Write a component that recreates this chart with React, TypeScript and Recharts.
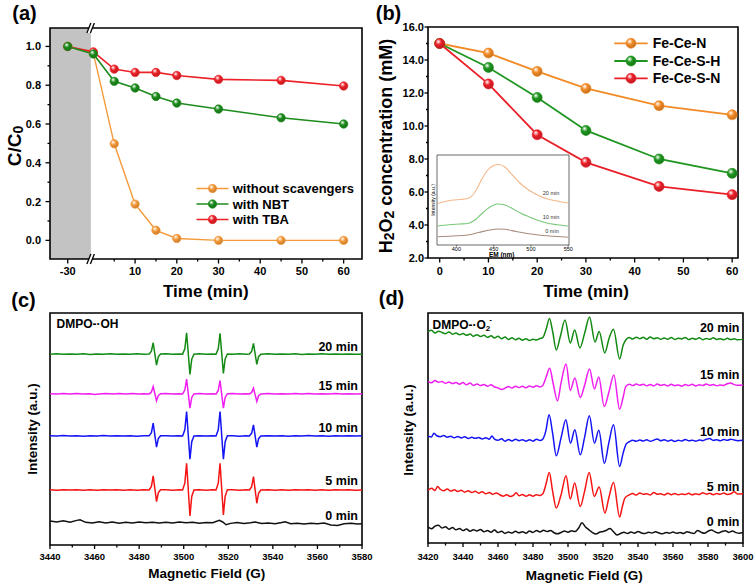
import React from 'react';
import { LineChart, Line, XAxis, YAxis, ReferenceArea, ReferenceDot } from 'recharts';

const FONT = "Arial, 'Liberation Sans', Helvetica, sans-serif";

// ---------------- Panel (a) data ----------------
const timeA = [-30, 0, 5, 10, 15, 20, 30, 45, 60];
const withoutScavengers = [1.0, 0.965, 0.498, 0.187, 0.052, 0.01, 0.0, 0.0, 0.0];
const withNBT = [1.0, 0.961, 0.82, 0.786, 0.742, 0.708, 0.677, 0.632, 0.6];
const withTBA = [1.0, 0.972, 0.883, 0.866, 0.866, 0.85, 0.83, 0.825, 0.796];
const namesA = ['without scavengers', 'with NBT', 'with TBA'];
const colorsA = ['#F59A3A', '#1C8C1C', '#EC2228'];
const xTicksA = [-30, 5, 10, 15, 20, 25, 30, 35, 40, 45, 50, 55, 60];
const xMajorsA = [-30, 10, 20, 30, 40, 50, 60];
const yTicksA = [0, 0.1, 0.2, 0.3, 0.4, 0.5, 0.6, 0.7, 0.8, 0.9, 1.0];
const yMajorsA = [0, 0.2, 0.4, 0.6, 0.8, 1.0];

// ---------------- Panel (b) data ----------------
const timeB = [0, 10, 20, 30, 45, 60];
const feCeN = [15.0, 14.42, 13.31, 12.28, 11.23, 10.68];
const feCeSH = [15.0, 13.55, 11.73, 9.73, 8.0, 7.13];
const feCeSN = [15.0, 12.55, 9.47, 7.8, 6.34, 5.84];
const namesB = ['Fe-Ce-N', 'Fe-Ce-S-H', 'Fe-Ce-S-N'];
const colorsB = ['#F28A26', '#1E951E', '#EA2029'];
const xTicksB = [0, 5, 10, 15, 20, 25, 30, 35, 40, 45, 50, 55, 60];
const xMajorsB = [0, 10, 20, 30, 40, 50, 60];
const yTicksB = [2, 3, 4, 5, 6, 7, 8, 9, 10, 11, 12, 13, 14, 15, 16];
const yMajorsB = [2, 4, 6, 8, 10, 12, 14, 16];

// inset of (b): emission spectra
const inset20: [number, number][] = [[375, 41.5], [385, 43.5], [395, 45], [405, 45.5], [415, 46.5], [422, 50], [428, 57], [435, 67], [442, 75], [450, 79.5], [457, 80.5], [465, 78], [475, 70], [485, 62], [497, 55], [510, 49.5], [520, 46.5], [535, 44], [550, 42]];
const inset10: [number, number][] = [[375, 19], [390, 20.3], [405, 21], [415, 21.5], [425, 25], [435, 32], [445, 38], [455, 41], [465, 40], [475, 36.5], [487, 31.5], [497, 28.3], [510, 24.5], [520, 22.3], [535, 20.3], [550, 19]];
const inset0: [number, number][] = [[375, 8.3], [395, 9], [415, 10], [430, 12.5], [445, 15], [455, 16], [465, 15.7], [480, 13.5], [495, 11.5], [510, 10], [530, 8.8], [550, 7.8]];
const insetColors = ['#F4B78A', '#78C878', '#A98C7C'];
const insetTicks = [400, 450, 500, 550];

// ---------------- Panel (c) data: DMPO-OH EPR ----------------
const oh20: [number, number][] = [[3440, 190.6], [3443, 190.9], [3446, 190.4], [3449, 190.8], [3452, 190.5], [3455, 190.9], [3458, 190.3], [3461, 190.7], [3464, 190.5], [3467, 190.9], [3470, 190.4], [3473, 190.8], [3476, 190.5], [3479, 190.9], [3482, 190.4], [3484.5, 190.7],
  [3485.5, 193.5], [3486.3, 202.0], [3487.8, 179.7], [3488.6, 188.0], [3489.6, 190.8],
  [3492, 190.9], [3495, 190.4], [3498, 190.8], [3499.5, 190.6],
  [3500.5, 196.0], [3501.3, 212.0], [3502.8, 170.4], [3503.6, 185.6], [3504.6, 190.5],
  [3507, 190.9], [3510, 190.4], [3513, 190.8], [3514.5, 190.6],
  [3515.5, 195.9], [3516.3, 211.4], [3517.8, 171.4], [3518.6, 185.9], [3519.6, 190.8],
  [3522, 190.4], [3525, 190.9], [3528, 190.5], [3529.5, 190.7],
  [3530.5, 193.4], [3531.3, 201.4], [3532.8, 180.4], [3533.6, 188.1], [3534.6, 190.6],
  [3538, 190.9], [3541, 190.4], [3544, 190.8], [3547, 190.5], [3550, 190.9], [3553, 190.3], [3556, 190.8], [3559, 190.5], [3562, 190.9], [3565, 190.4], [3568, 190.7], [3571, 190.5], [3574, 190.8], [3577, 190.4], [3580, 190.6]];
const oh15: [number, number][] = [[3440, 151.1], [3443, 150.8], [3446, 151.3], [3449, 150.9], [3452, 151.2], [3455, 150.7], [3458, 151.0], [3460, 150.2], [3462, 150.9], [3465, 151.2], [3468, 150.8], [3471, 151.3], [3474, 150.9], [3477, 151.2], [3480, 150.7], [3482, 151.1], [3484.5, 150.9],
  [3485.5, 152.8], [3486.3, 158.3], [3487.8, 144.0], [3488.6, 149.2], [3489.6, 151.1],
  [3492, 151.2], [3495, 150.8], [3498, 151.1], [3499.5, 150.9],
  [3500.5, 154.7], [3501.3, 165.7], [3502.8, 136.7], [3503.6, 147.4], [3504.6, 150.9],
  [3507, 151.2], [3510, 150.7], [3513, 151.1], [3514.5, 150.9],
  [3515.5, 154.3], [3516.3, 164.3], [3517.8, 136.7], [3518.6, 147.4], [3519.6, 151.1],
  [3522, 151.2], [3525, 150.8], [3528, 151.1], [3529.5, 150.9],
  [3530.5, 152.4], [3531.3, 156.7], [3532.8, 143.3], [3533.6, 149.1], [3534.6, 150.9],
  [3538, 151.2], [3541, 150.8], [3544, 151.1], [3547, 150.7], [3550, 151.2], [3553, 150.9], [3556, 151.3], [3559, 150.8], [3562, 151.1], [3565, 150.7], [3568, 151.2], [3571, 150.9], [3574, 151.1], [3577, 150.8], [3580, 151.0]];
const oh10: [number, number][] = [[3440, 109.1], [3443, 108.8], [3446, 109.3], [3449, 108.9], [3452, 109.2], [3455, 108.7], [3458, 109.1], [3461, 108.8], [3464, 109.3], [3467, 108.9], [3470, 109.2], [3473, 108.8], [3476, 109.1], [3479, 108.7], [3482, 109.2], [3484.5, 109.0],
  [3485.5, 112.2], [3486.3, 121.7], [3487.8, 97.7], [3488.6, 106.2], [3489.6, 109.1],
  [3492, 109.2], [3495, 108.8], [3498, 109.1], [3499.5, 108.9],
  [3500.5, 115.1], [3501.3, 133.3], [3502.8, 85.7], [3503.6, 103.2], [3504.6, 108.9],
  [3507, 109.2], [3510, 108.8], [3513, 109.1], [3514.5, 108.9],
  [3515.5, 115.1], [3516.3, 133.3], [3517.8, 85.7], [3518.6, 103.2], [3519.6, 109.1],
  [3522, 109.2], [3525, 108.7], [3528, 109.1], [3529.5, 108.9],
  [3530.5, 111.8], [3531.3, 120.0], [3532.8, 97.7], [3533.6, 106.2], [3534.6, 108.9],
  [3538, 109.2], [3541, 108.8], [3544, 109.1], [3547, 108.7], [3550, 109.2], [3553, 108.9], [3556, 109.3], [3559, 108.8], [3562, 109.1], [3565, 108.7], [3568, 109.2], [3571, 108.9], [3574, 109.1], [3577, 108.8], [3580, 109.0]];
const oh5: [number, number][] = [[3440, 55.1], [3443, 54.8], [3446, 55.3], [3449, 54.9], [3452, 55.2], [3455, 54.7], [3458, 55.1], [3461, 54.8], [3464, 55.3], [3467, 54.9], [3470, 55.2], [3473, 54.8], [3476, 55.1], [3479, 54.7], [3482, 55.2], [3484.5, 55.0],
  [3485.5, 58.5], [3486.3, 69.0], [3487.8, 43.3], [3488.6, 52.1], [3489.6, 55.1],
  [3492, 55.2], [3495, 54.8], [3498, 55.1], [3499.5, 54.9],
  [3500.5, 61.7], [3501.3, 81.7], [3502.8, 29.0], [3503.6, 48.5], [3504.6, 54.9],
  [3507, 55.2], [3510, 54.8], [3513, 55.1], [3514.5, 54.9],
  [3515.5, 61.7], [3516.3, 81.7], [3517.8, 30.0], [3518.6, 48.8], [3519.6, 55.1],
  [3522, 55.2], [3525, 54.7], [3528, 55.1], [3529.5, 54.9],
  [3530.5, 58.3], [3531.3, 68.3], [3532.8, 41.7], [3533.6, 51.7], [3534.6, 54.9],
  [3538, 55.2], [3541, 54.8], [3544, 55.1], [3547, 54.7], [3550, 55.2], [3553, 54.9], [3556, 55.3], [3559, 54.8], [3562, 55.1], [3565, 54.7], [3568, 55.2], [3571, 54.9], [3574, 55.1], [3577, 54.8], [3580, 55.0]];
const oh0: [number, number][] = [[3440, 24.0], [3443, 23.0], [3446, 24.2], [3449, 22.8], [3452, 24.6], [3453.5, 25.2], [3456, 22.6], [3459, 22.0], [3462, 23.2], [3465, 22.1], [3468, 22.9], [3471, 21.8], [3474, 22.7], [3477, 22.0], [3480, 23.0], [3483, 22.2], [3486, 22.8], [3489, 21.9], [3492, 22.6], [3495, 22.0], [3498, 22.9], [3501, 22.3], [3504, 22.6], [3507, 21.8], [3510, 22.5], [3513, 22.2], [3516, 24.6], [3517.5, 23.0], [3519, 20.2], [3521, 21.6], [3524, 22.4], [3527, 21.5], [3530, 22.2], [3532, 23.0], [3535, 21.4], [3538, 21.9], [3541, 21.2], [3544, 22.4], [3545.5, 23.2], [3548, 21.3], [3551, 21.8], [3554, 21.0], [3557, 21.7], [3560, 21.2], [3563, 21.9], [3566, 20.0], [3569, 19.6], [3572, 21.2], [3575, 21.8], [3578, 20.9], [3580, 21.3]];
const ohLabels = ['20 min', '15 min', '10 min', '5 min', '0 min'];
const specColors = ['#138A13', '#F01EF0', '#1414F5', '#F51414', '#111111'];
const xTicksC = [3440, 3450, 3460, 3470, 3480, 3490, 3500, 3510, 3520, 3530, 3540, 3550, 3560, 3570, 3580];
const xMajorsC = [3440, 3460, 3480, 3500, 3520, 3540, 3560, 3580];

// ---------------- Panel (d) data: DMPO-O2- EPR ----------------
const oo20: [number, number][] = [[3420, 211.5], [3422, 213.0], [3424, 210.2], [3426, 212.1], [3428, 210.8], [3430, 209.6], [3432, 211.4], [3434, 209.0], [3436, 210.3], [3438, 208.5], [3440, 209.8], [3442, 207.9], [3444, 209.2], [3446, 207.0], [3448, 208.6], [3450, 206.8], [3452, 208.1], [3454, 205.9], [3456, 207.6], [3458, 205.2], [3460, 206.9], [3462, 204.6], [3464, 206.2], [3466, 203.8], [3468, 205.5], [3470, 203.6], [3472, 204.9], [3474, 203.0], [3476, 204.6], [3478, 202.8], [3480, 204.1], [3482, 203.2], [3484, 204.8], [3485.5, 205.5],
  [3487.5, 214.0], [3489.4, 224.8], [3491.2, 212.0], [3493.3, 193.3], [3495.5, 206.0], [3498.3, 223.3], [3501.3, 200.3], [3503.8, 213.3], [3506.8, 195.3], [3509.5, 210.0], [3512.3, 226.3], [3515.4, 201.3], [3517.8, 211.8], [3521.0, 190.3], [3523.5, 205.0], [3526.0, 214.0], [3529.5, 184.3], [3531.5, 198.0], [3533.0, 203.3],
  [3535, 205.8], [3537, 204.2], [3539, 206.0], [3541, 204.6], [3543, 205.9], [3545, 204.0], [3547, 206.2], [3549, 204.5], [3551, 205.6], [3553, 203.9], [3555, 205.3], [3557, 204.1], [3559, 205.7], [3561, 203.8], [3563, 205.1], [3565, 204.3], [3567, 205.8], [3569, 203.7], [3571, 204.9], [3573, 204.0], [3575, 205.4], [3577, 203.6], [3579, 204.8], [3581, 203.9], [3583, 205.5], [3585, 203.8], [3587, 204.6], [3589, 203.5], [3591, 204.9], [3593, 203.7], [3595, 204.5], [3597, 203.4], [3600, 203.9]];
const oo15: [number, number][] = [[3420, 161.8], [3422, 160.5], [3424, 162.6], [3426, 160.9], [3428, 161.7], [3430, 159.8], [3432, 161.2], [3434, 159.6], [3436, 160.8], [3438, 158.9], [3440, 160.6], [3442, 158.4], [3444, 160.1], [3446, 157.8], [3448, 159.3], [3450, 157.6], [3452, 158.8], [3454, 156.9], [3456, 158.5], [3458, 156.2], [3460, 155.3], [3462, 153.6], [3464, 154.9], [3466, 156.8], [3468, 155.1], [3470, 157.0], [3472, 155.6], [3474, 156.9], [3476, 155.4], [3478, 157.1], [3480, 156.0], [3482, 157.4], [3484, 156.3], [3485.5, 157.5],
  [3487.5, 166.0], [3489.5, 175.0], [3491.5, 160.0], [3494.0, 142.3], [3496.0, 160.0], [3498.9, 179.3], [3501.3, 152.8], [3503.9, 165.3], [3507.0, 145.8], [3509.5, 158.0], [3512.3, 174.3], [3515.1, 154.3], [3517.6, 166.3], [3520.7, 136.6], [3523.5, 152.0], [3526.2, 168.3], [3529.5, 134.0], [3531.5, 146.0], [3533.0, 156.6],
  [3535, 158.9], [3537, 157.6], [3539, 159.2], [3541, 157.9], [3543, 159.0], [3545, 157.4], [3547, 158.8], [3549, 157.3], [3551, 159.1], [3553, 157.8], [3555, 158.6], [3557, 157.2], [3559, 158.9], [3561, 157.5], [3563, 158.3], [3565, 157.1], [3567, 158.7], [3569, 157.6], [3571, 158.9], [3573, 157.3], [3575, 158.4], [3577, 157.7], [3579, 159.2], [3581, 157.9], [3583, 158.6], [3585, 157.4], [3587, 158.2], [3589, 157.8], [3591, 159.5], [3593, 160.3], [3595, 158.6], [3597, 157.9], [3600, 158.2]];
const oo10: [number, number][] = [[3420, 107.0], [3422, 106.2], [3423.4, 110.0], [3425, 107.4], [3427, 106.5], [3429, 107.6], [3431, 105.9], [3433, 106.8], [3435, 105.4], [3437, 106.7], [3439, 105.2], [3441, 106.3], [3443, 104.6], [3445, 106.0], [3447, 104.8], [3449, 105.6], [3451, 104.2], [3453, 105.5], [3455, 104.0], [3456.5, 107.2], [3458, 104.1], [3460, 102.9], [3462, 104.3], [3464, 101.8], [3466, 103.6], [3468, 102.2], [3470, 103.9], [3472, 102.4], [3474, 103.5], [3476, 101.9], [3478, 103.4], [3480, 102.0], [3482, 104.0], [3484, 102.6], [3485.5, 103.8],
  [3487.3, 112.0], [3489.2, 128.3], [3491.2, 110.0], [3493.3, 87.3], [3496.0, 105.0], [3498.8, 123.3], [3501.4, 100.0], [3503.9, 113.3], [3507.0, 88.3], [3509.5, 106.0], [3512.2, 127.3], [3515.1, 100.0], [3517.6, 112.8], [3520.8, 79.8], [3523.3, 100.0], [3526.0, 118.3], [3529.5, 76.6], [3531.5, 90.0], [3533.3, 99.3],
  [3535, 101.4], [3537, 102.8], [3539, 101.9], [3541, 103.2], [3543, 102.1], [3545, 103.5], [3547, 101.8], [3549, 102.9], [3551, 104.2], [3553, 102.5], [3555, 103.4], [3557, 102.0], [3559, 103.1], [3561, 101.7], [3563, 102.8], [3565, 102.2], [3567, 103.6], [3569, 102.4], [3571, 103.0], [3573, 101.9], [3575, 103.2], [3577, 102.5], [3579, 103.8], [3581, 104.6], [3583, 102.7], [3585, 103.4], [3587, 102.3], [3589, 103.7], [3591, 102.8], [3593, 104.0], [3595, 103.1], [3597, 102.4], [3600, 102.9]];
const oo5: [number, number][] = [[3420, 53.0], [3422, 54.8], [3424, 52.6], [3425.5, 56.5], [3427, 53.8], [3429, 52.4], [3431, 54.1], [3433, 51.9], [3435, 53.2], [3437, 51.5], [3439, 52.8], [3441, 50.9], [3443, 52.3], [3445, 50.6], [3447, 51.8], [3449, 49.9], [3451, 51.4], [3453, 49.2], [3455, 50.6], [3457, 48.7], [3459, 50.1], [3461, 48.3], [3463, 46.9], [3465, 48.4], [3467, 46.5], [3469, 48.0], [3470.5, 50.2], [3472, 47.3], [3474, 48.6], [3476, 46.8], [3478, 48.2], [3480, 46.9], [3482, 48.4], [3484, 47.5], [3485.5, 49.0],
  [3487.3, 58.0], [3489.3, 70.6], [3491.2, 52.0], [3493.3, 35.0], [3496.0, 48.0], [3498.9, 67.3], [3501.3, 44.0], [3503.8, 60.0], [3507.0, 36.6], [3509.5, 52.0], [3512.1, 70.6], [3515.0, 46.6], [3517.8, 56.0], [3521.1, 30.0], [3523.3, 45.0], [3526.0, 60.6], [3529.5, 26.0], [3531.0, 36.0], [3532.5, 45.0],
  [3535, 48.2], [3537, 49.6], [3539, 48.0], [3541, 50.1], [3543, 48.7], [3545, 49.4], [3547, 48.1], [3549, 50.6], [3551, 48.8], [3553, 49.3], [3555, 48.0], [3557, 49.9], [3559, 48.4], [3561, 49.5], [3563, 48.2], [3565, 49.1], [3567, 48.5], [3569, 49.8], [3571, 48.3], [3573, 49.2], [3575, 48.6], [3577, 50.3], [3579, 48.9], [3581, 49.7], [3583, 48.4], [3585, 49.5], [3587, 48.8], [3589, 50.0], [3591, 48.6], [3593, 49.3], [3595, 51.2], [3597, 49.0], [3600, 49.4]];
const oo0: [number, number][] = [[3420, 15.8], [3422, 14.2], [3424, 16.9], [3426, 17.8], [3428, 15.0], [3430, 16.2], [3432, 13.8], [3434, 15.4], [3436, 13.2], [3438, 14.6], [3440, 12.4], [3442, 14.0], [3444, 11.8], [3446, 13.2], [3448, 12.1], [3450, 13.6], [3452, 11.2], [3454, 12.5], [3456, 10.8], [3458, 12.9], [3460, 10.4], [3462, 11.8], [3464, 9.6], [3466, 11.0], [3468, 9.9], [3470, 11.7], [3472, 10.2], [3474, 11.3], [3476, 9.8], [3478, 11.9], [3480, 10.6], [3482, 12.4], [3484, 11.1], [3486, 12.8], [3488, 11.4], [3490, 12.6], [3492, 10.3], [3494, 9.2], [3496, 10.5], [3498, 11.9], [3500, 10.8], [3502, 12.2], [3504, 11.5], [3506, 14.8], [3508, 20.3], [3510, 16.0], [3512, 13.2], [3514, 10.4], [3516, 9.0], [3518, 10.8], [3520, 11.5], [3522, 12.8], [3524, 14.6], [3526, 11.2], [3528, 8.0], [3530, 9.5], [3532, 10.8], [3534, 9.6], [3536, 10.9], [3538, 9.8], [3540, 11.5], [3542, 10.1], [3544, 9.4], [3546, 10.8], [3548, 9.9], [3550, 11.2], [3552, 10.0], [3554, 9.2], [3556, 10.6], [3558, 9.8], [3560, 11.0], [3562, 9.7], [3564, 10.4], [3566, 9.5], [3568, 11.3], [3570, 10.2], [3572, 9.6], [3574, 12.6], [3576, 10.8], [3578, 9.7], [3580, 11.8], [3582, 13.0], [3584, 11.2], [3586, 10.1], [3588, 11.6], [3590, 12.3], [3592, 10.6], [3594, 12.0], [3596, 10.4], [3598, 9.8], [3600, 10.5]];
const xTicksD = [3420, 3430, 3440, 3450, 3460, 3470, 3480, 3490, 3500, 3510, 3520, 3530, 3540, 3550, 3560, 3570, 3580, 3590, 3600];
const xMajorsD = [3420, 3440, 3460, 3480, 3500, 3520, 3540, 3560, 3580, 3600];

// ---------------- helpers ----------------
const PRE_BREAK = 0.205; // compression of the time axis before the break
const breakPos = (t: number) => (t < 0 ? t * PRE_BREAK : t);
const unbreak = (p: number) => (p < 0 ? Math.round(p / PRE_BREAK) : Math.round(p));
const toRows = (a: [number, number][]) => a.map(([x, y]) => ({ x, y }));

const rowsA = timeA.map((t, i) => ({ pos: breakPos(t), s0: withoutScavengers[i], s1: withNBT[i], s2: withTBA[i] }));
const rowsB = timeB.map((t, i) => ({ t, s0: feCeN[i], s1: feCeSH[i], s2: feCeSN[i] }));

type TickCfg = { majors: number[]; label: (v: number) => string; size: number; majorLen: number; minorLen: number; offset: number; sw?: number; weight?: string };
const near = (list: number[], v: number) => list.some((m) => Math.abs(m - v) < 1e-6);

function bottomTick(cfg: TickCfg) {
  return (props: any) => {
    const { x, y, payload } = props;
    const v = payload.value;
    const major = near(cfg.majors, v);
    return (
      <g>
        <line x1={x} x2={x} y1={y} y2={y + (major ? cfg.majorLen : cfg.minorLen)} stroke="#000" strokeWidth={cfg.sw ?? 1.3} />
        {major ? (
          <text x={x} y={y + cfg.offset} textAnchor="middle" dominantBaseline="central" fontFamily={FONT} fontWeight={cfg.weight ?? 'bold'} fontSize={cfg.size} fill="#000">
            {cfg.label(v)}
          </text>
        ) : null}
      </g>
    );
  };
}
function leftTick(cfg: TickCfg) {
  return (props: any) => {
    const { x, y, payload } = props;
    const v = payload.value;
    const major = near(cfg.majors, v);
    return (
      <g>
        <line x1={x} x2={x - (major ? cfg.majorLen : cfg.minorLen)} y1={y} y2={y} stroke="#000" strokeWidth={cfg.sw ?? 1.3} />
        {major ? (
          <text x={x - cfg.offset} y={y} textAnchor="end" dominantBaseline="central" fontFamily={FONT} fontWeight="bold" fontSize={cfg.size} fill="#000">
            {cfg.label(v)}
          </text>
        ) : null}
      </g>
    );
  };
}

const gid = (c: string) => 'ball' + c.replace('#', '');
const ballDot = (color: string, r: number) => (props: any) => {
  const { cx, cy, index } = props;
  if (cx == null || cy == null) return <g key={index} />;
  return <circle key={index} cx={cx} cy={cy} r={r} fill={`url(#${gid(color)})`} stroke={color} strokeWidth={0.7} />;
};

const BreakMark = ({ cx, cy }: any) => (
  <g>
    <polygon points={`${cx - 4},${cy + 5} ${cx},${cy - 5} ${cx + 3.5},${cy - 5} ${cx - 0.5},${cy + 5}`} fill="#fff" />
    <line x1={cx - 4} y1={cy + 5} x2={cx} y2={cy - 5} stroke="#000" strokeWidth={1.3} />
    <line x1={cx - 0.5} y1={cy + 5} x2={cx + 3.5} y2={cy - 5} stroke="#000" strokeWidth={1.3} />
  </g>
);

const allBallColors = [...colorsA, ...colorsB];
const shade = (hex: string, k: number) => {
  const n = parseInt(hex.slice(1), 16);
  const r = Math.round(((n >> 16) & 255) * k), g = Math.round(((n >> 8) & 255) * k), b = Math.round((n & 255) * k);
  return `rgb(${r},${g},${b})`;
};

const T = (p: any) => (
  <text x={p.x} y={p.y} textAnchor={p.anchor || 'middle'} dominantBaseline="central" fontFamily={FONT} fontWeight={p.weight || 'bold'} fontSize={p.size} fill={p.fill || '#000'} transform={p.rot ? `rotate(${p.rot} ${p.x} ${p.y})` : undefined}>
    {p.children}
  </text>
);

// domains
const AX = [-10.4, 64.4], AY = [-0.096, 1.095];
const BX = [-2.4, 61.2], BY = [2, 16];
const IX = [374, 551], IY = [0, 90];
const CX = [3440, 3580], CY = [0, 231.7];
const DX = [3420, 3600], DY = [0, 230.3];
const BREAK_AT = -0.6;

const ohSeries = [oh20, oh15, oh10, oh5, oh0];
const ooSeries = [oo20, oo15, oo10, oo5, oo0];

export default function App() {
  const abs = (l: number, t: number): React.CSSProperties => ({ position: 'absolute', left: l, top: t });
  return (
    <div style={{ position: 'fixed', left: 0, top: 0, width: 756, height: 584, background: '#fff', overflow: 'hidden', fontFamily: FONT }}>
      <svg width={0} height={0} style={{ position: 'absolute' }}>
        <defs>
          {allBallColors.map((c) => (
            <radialGradient key={c} id={gid(c)} cx="40%" cy="38%" r="65%" fx="36%" fy="30%">
              <stop offset="0%" stopColor="#ffffff" />
              <stop offset="45%" stopColor={c} />
              <stop offset="100%" stopColor={shade(c, 0.78)} />
            </radialGradient>
          ))}
        </defs>
      </svg>

      {/* (a) */}
      <div style={abs(0, 0)}>
        <LineChart width={380} height={300} data={rowsA} margin={{ top: 28, right: 18, bottom: 11, left: 10 }}>
          <XAxis dataKey="pos" type="number" domain={AX} allowDataOverflow ticks={xTicksA.map(breakPos)} interval={0} tickSize={0} tickMargin={0} tickLine={false} axisLine={false} height={30}
            tick={bottomTick({ majors: xMajorsA.map(breakPos), label: (v) => String(unbreak(v)), size: 11, majorLen: 4.5, minorLen: 2.5, offset: 12 })} />
          <YAxis type="number" domain={AY} allowDataOverflow ticks={yTicksA} interval={0} width={40} tickSize={0} tickMargin={0} tickLine={false} axisLine={false}
            tick={leftTick({ majors: yMajorsA, label: (v) => v.toFixed(1), size: 11, majorLen: 4.5, minorLen: 2.5, offset: 9 })} />
          <ReferenceArea x1={AX[0]} x2={BREAK_AT} y1={AY[0]} y2={AY[1]} fill="#C3C3C3" fillOpacity={1} stroke="none" ifOverflow="visible" />
          <Line dataKey="s0" name={namesA[0]} stroke={colorsA[0]} strokeWidth={1.4} dot={ballDot(colorsA[0], 4.2)} activeDot={false} isAnimationActive={false} />
          <Line dataKey="s2" name={namesA[2]} stroke={colorsA[2]} strokeWidth={1.6} dot={ballDot(colorsA[2], 4.2)} activeDot={false} isAnimationActive={false} />
          <Line dataKey="s1" name={namesA[1]} stroke={colorsA[1]} strokeWidth={1.6} dot={ballDot(colorsA[1], 4.2)} activeDot={false} isAnimationActive={false} />
          <ReferenceArea x1={AX[0]} x2={AX[1]} y1={AY[0]} y2={AY[1]} fill="none" stroke="#000" strokeWidth={1.6} ifOverflow="visible" />
          <ReferenceDot x={BREAK_AT} y={AY[0]} ifOverflow="visible" shape={(p: any) => <BreakMark cx={p.cx} cy={p.cy} />} />
          <ReferenceDot x={BREAK_AT} y={AY[1]} ifOverflow="visible" shape={(p: any) => <BreakMark cx={p.cx} cy={p.cy} />} />
        </LineChart>
      </div>

      {/* (b) */}
      <div style={abs(376, 0)}>
        <LineChart width={380} height={300} data={rowsB} margin={{ top: 27, right: 18, bottom: 12, left: 10 }}>
          <XAxis dataKey="t" type="number" domain={BX} allowDataOverflow ticks={xTicksB} interval={0} tickSize={0} tickMargin={0} tickLine={false} axisLine={false} height={30}
            tick={bottomTick({ majors: xMajorsB, label: (v) => String(v), size: 11, majorLen: 4.5, minorLen: 2.5, offset: 13 })} />
          <YAxis type="number" domain={BY} allowDataOverflow ticks={yTicksB} interval={0} width={42} tickSize={0} tickMargin={0} tickLine={false} axisLine={false}
            tick={leftTick({ majors: yMajorsB, label: (v) => v.toFixed(1), size: 11, majorLen: 3.5, minorLen: 2, offset: 4 })} />
          <Line dataKey="s0" name={namesB[0]} stroke={colorsB[0]} strokeWidth={1.8} dot={ballDot(colorsB[0], 5)} activeDot={false} isAnimationActive={false} />
          <Line dataKey="s1" name={namesB[1]} stroke={colorsB[1]} strokeWidth={1.8} dot={ballDot(colorsB[1], 5)} activeDot={false} isAnimationActive={false} />
          <Line dataKey="s2" name={namesB[2]} stroke={colorsB[2]} strokeWidth={1.8} dot={ballDot(colorsB[2], 5)} activeDot={false} isAnimationActive={false} />
          <ReferenceArea x1={BX[0]} x2={BX[1]} y1={BY[0]} y2={BY[1]} fill="none" stroke="#000" strokeWidth={1.6} ifOverflow="visible" />
        </LineChart>
      </div>

      {/* inset of (b) */}
      <div style={abs(430, 150)}>
        <LineChart width={145} height={112} margin={{ top: 5, right: 6, bottom: 7, left: 7 }}>
          <XAxis dataKey="x" type="number" domain={IX} allowDataOverflow ticks={insetTicks} interval={0} tickSize={0} tickMargin={0} tickLine={false} axisLine={false} height={10}
            tick={bottomTick({ majors: insetTicks, label: (v) => String(v), size: 5.5, majorLen: 1.5, minorLen: 1, offset: 4, sw: 0.6, weight: 'normal' })} />
          <YAxis hide type="number" domain={IY} allowDataOverflow />
          <ReferenceArea x1={IX[0]} x2={IX[1]} y1={IY[0]} y2={IY[1]} fill="#fff" fillOpacity={1} stroke="#444" strokeWidth={0.8} ifOverflow="visible" />
          <Line type="monotone" data={toRows(inset20)} dataKey="y" stroke={insetColors[0]} strokeWidth={1.1} dot={false} activeDot={false} isAnimationActive={false} />
          <Line type="monotone" data={toRows(inset10)} dataKey="y" stroke={insetColors[1]} strokeWidth={1.1} dot={false} activeDot={false} isAnimationActive={false} />
          <Line type="monotone" data={toRows(inset0)} dataKey="y" stroke={insetColors[2]} strokeWidth={1.1} dot={false} activeDot={false} isAnimationActive={false} />
        </LineChart>
      </div>

      {/* (c) */}
      <div style={abs(0, 290)}>
        <LineChart width={380} height={294} margin={{ top: 23, right: 18, bottom: 9, left: 50 }}>
          <XAxis dataKey="x" type="number" domain={CX} allowDataOverflow ticks={xTicksC} interval={0} tickSize={0} tickMargin={0} tickLine={false} axisLine={false} height={30}
            tick={bottomTick({ majors: xMajorsC, label: (v) => String(v), size: 9.5, majorLen: 4, minorLen: 2.5, offset: 11.7 })} />
          <YAxis hide type="number" domain={CY} allowDataOverflow />
          {ohSeries.map((s, i) => (
            <Line key={i} data={toRows(s)} dataKey="y" name={ohLabels[i]} stroke={specColors[i]} strokeWidth={1.5} dot={false} activeDot={false} isAnimationActive={false} />
          ))}
          <ReferenceArea x1={CX[0]} x2={CX[1]} y1={CY[0]} y2={CY[1]} fill="none" stroke="#000" strokeWidth={1.6} ifOverflow="visible" />
        </LineChart>
      </div>

      {/* (d) */}
      <div style={abs(376, 290)}>
        <LineChart width={380} height={294} margin={{ top: 23, right: 13, bottom: 11, left: 52 }}>
          <XAxis dataKey="x" type="number" domain={DX} allowDataOverflow ticks={xTicksD} interval={0} tickSize={0} tickMargin={0} tickLine={false} axisLine={false} height={30}
            tick={bottomTick({ majors: xMajorsD, label: (v) => String(v), size: 9.5, majorLen: 4, minorLen: 2.5, offset: 13.5 })} />
          <YAxis hide type="number" domain={DY} allowDataOverflow />
          {ooSeries.map((s, i) => (
            <Line key={i} type="monotone" data={toRows(s)} dataKey="y" name={ohLabels[i]} stroke={specColors[i]} strokeWidth={1.5} dot={false} activeDot={false} isAnimationActive={false} />
          ))}
          <ReferenceArea x1={DX[0]} x2={DX[1]} y1={DY[0]} y2={DY[1]} fill="none" stroke="#000" strokeWidth={1.6} ifOverflow="visible" />
        </LineChart>
      </div>

      {/* text and legends overlay */}
      <svg width={756} height={584} style={{ position: 'absolute', left: 0, top: 0, pointerEvents: 'none' }}>
        <T x={24.5} y={12.5} size={20}>(a)</T>
        <T x={388.5} y={12.5} size={20}>(b)</T>
        <T x={23.5} y={300} size={20}>(c)</T>
        <T x={391.5} y={298} size={20}>(d)</T>

        <T x={205.8} y={291} size={17}>Time (min)</T>
        <T x={586} y={291} size={17}>Time (min)</T>
        <T x={14} y={146} size={19} rot={-90}>
          C/C<tspan fontSize={14} dy={4}>0</tspan>
        </T>
        <T x={386} y={146} size={18} rot={-90}>
          H<tspan fontSize={14} dy={3}>2</tspan>
          <tspan dy={-3}>O</tspan>
          <tspan fontSize={14} dy={3}>2</tspan>
          <tspan dy={-3}> concentration (mM)</tspan>
        </T>
        <T x={32} y={429} size={13.5} rot={-90}>Intensity (a.u.)</T>
        <T x={408} y={430} size={13.5} rot={-90}>Intensity (a.u.)</T>
        <T x={206.7} y={573.5} size={13.5}>Magnetic Field (G)</T>
        <T x={584.3} y={575} size={13.5}>Magnetic Field (G)</T>

        <T x={56.5} y={323.5} size={12} anchor="start">DMPO-·OH</T>
        <T x={432.5} y={324.5} size={12} anchor="start">
          DMPO-·O<tspan fontSize={8} dy={3}>2</tspan>
          <tspan fontSize={8} dx={-1} dy={-9}>-</tspan>
        </T>
        {ohLabels.map((l, i) => (
          <T key={'c' + i} x={358} y={[346.7, 386, 428, 480.7, 516][i]} size={12.5} anchor="end">{l}</T>
        ))}
        {ohLabels.map((l, i) => (
          <T key={'d' + i} x={739.5} y={[328.3, 375, 431.7, 486.7, 522.3][i]} size={12.5} anchor="end">{l}</T>
        ))}

        {/* inset labels */}
        <T x={501.7} y={254.5} size={6.5}>EM (nm)</T>
        <T x={432.8} y={200} size={5} rot={-90} weight="normal">Intensity (a.u.)</T>
        <T x={551} y={193.3} size={5.5} weight="normal" fill="#333">20 min</T>
        <T x={551} y={216.7} size={5.5} weight="normal" fill="#333">10 min</T>
        <T x={552} y={231} size={5.5} weight="normal" fill="#333">0 min</T>

        {/* legend (a) */}
        {namesA.map((n, i) => {
          const y = [188.5, 204, 219.5][i];
          return (
            <g key={n}>
              <line x1={196.5} x2={228.5} y1={y} y2={y} stroke={colorsA[i]} strokeWidth={1.6} />
              <circle cx={212.5} cy={y} r={4.2} fill={`url(#${gid(colorsA[i])})`} stroke={colorsA[i]} strokeWidth={0.7} />
              <T x={232.7} y={y} size={13} anchor="start">{n}</T>
            </g>
          );
        })}
        {/* legend (b) */}
        {namesB.map((n, i) => {
          const y = [43.3, 61, 78.3][i];
          return (
            <g key={n}>
              <line x1={614.3} x2={647.7} y1={y} y2={y} stroke={colorsB[i]} strokeWidth={1.8} />
              <circle cx={631} cy={y} r={5} fill={`url(#${gid(colorsB[i])})`} stroke={colorsB[i]} strokeWidth={0.7} />
              <T x={652.7} y={y} size={14} anchor="start">{n}</T>
            </g>
          );
        })}
      </svg>
    </div>
  );
}
